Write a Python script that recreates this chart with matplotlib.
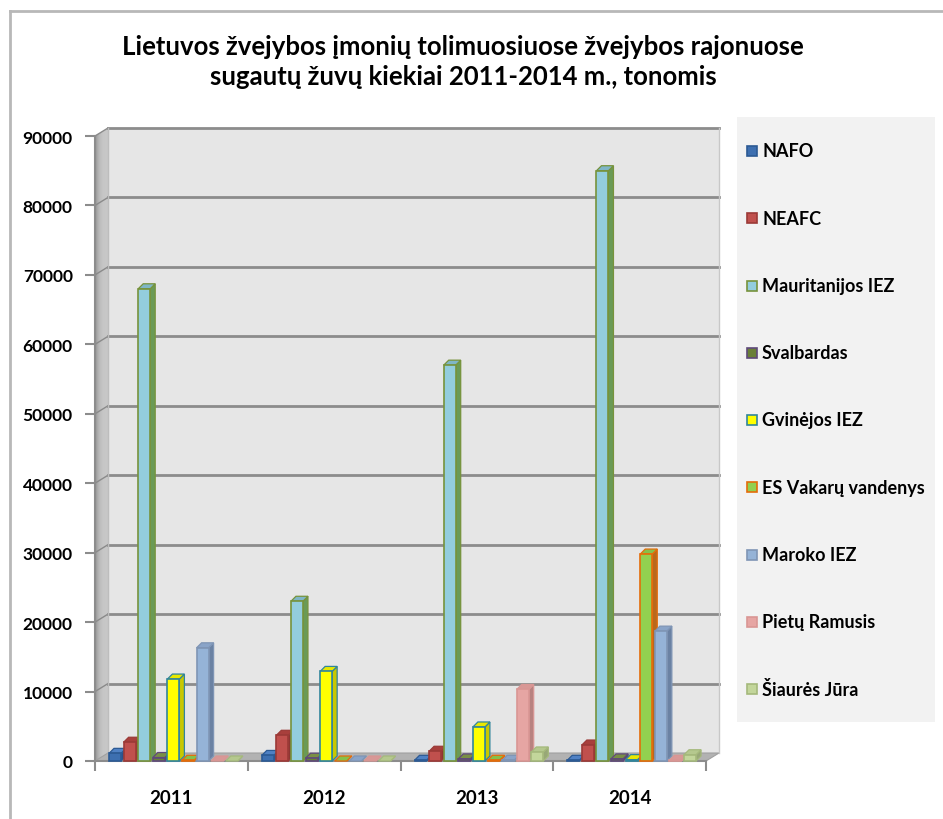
import matplotlib
matplotlib.use("Agg")
import matplotlib.pyplot as plt
from matplotlib.patches import Polygon, Rectangle
from matplotlib.lines import Line2D
import numpy as np

plt.rcParams['font.family'] = ['Lato', 'DejaVu Sans']

years = ['2011', '2012', '2013', '2014']
series = ['NAFO', 'NEAFC', 'Mauritanijos IEZ', 'Svalbardas', 'Gvinėjos IEZ',
          'ES Vakarų vandenys', 'Maroko IEZ', 'Pietų Ramusis', 'Šiaurės Jūra']
nafo = [1100, 800, 100, 100]
neafc = [2700, 3700, 1400, 2300]
mauritanijos = [68000, 23000, 57000, 85000]
svalbardas = [500, 400, 300, 300]
gvinejos = [11800, 12900, 4900, 200]
es_vakaru = [100, 0, 100, 29800]
maroko = [16300, 0, 100, 18700]
pietu_ramusis = [0, 0, 10300, 100]
siaures_jura = [0, 0, 1300, 900]
values = [nafo, neafc, mauritanijos, svalbardas, gvinejos, es_vakaru,
          maroko, pietu_ramusis, siaures_jura]
yticks = [0, 10000, 20000, 30000, 40000, 50000, 60000, 70000, 80000, 90000]
title = "Lietuvos žvejybos įmonių tolimuosiuose žvejybos rajonuose\nsugautų žuvų kiekiai 2011-2014 m., tonomis"

# face, side, top, edge colours
styles = [
    ('#3d6fb0', '#2a5189', '#4f81c4', '#2c5a94'),
    ('#c0504d', '#8e3533', '#a83f3c', '#9b3a37'),
    ('#93cddd', '#6a9a56', '#7fb6c6', '#77933c'),
    ('#6a7f38', '#4f5f2a', '#7a8f45', '#5f497a'),
    ('#ffff00', '#c8c800', '#e8e800', '#31859c'),
    ('#92d050', '#b8691c', '#86c04a', '#e46c0a'),
    ('#95b3d7', '#6b82a3', '#8aa4c8', '#7f95b5'),
    ('#e6a5a3', '#b88280', '#d89896', '#d99694'),
    ('#c3d69b', '#98a877', '#b5c88e', '#a5b97c'),
]

W, H = 943, 820
fig = plt.figure(figsize=(W / 100, H / 100), dpi=100)
fig.patch.set_facecolor('white')

x0p, x1p = 95, 706
y0p, y1p = 762, 137
ax = fig.add_axes([x0p / W, 1 - y0p / H, (x1p - x0p) / W, (y0p - y1p) / H])
ax.set_xlim(0, 4)
ax.set_ylim(0, 90000)
ax.patch.set_alpha(0)
for s in ax.spines.values():
    s.set_visible(False)

pxx = 4 / (x1p - x0p)          # data units per pixel (x)
pxy = 90000 / (y0p - y1p)      # data units per pixel (y)

wdx, wdy = 13 * pxx, 8 * pxy   # wall depth
# back wall
ax.add_patch(Polygon([(wdx, wdy), (4 + wdx, wdy), (4 + wdx, 90000 + wdy), (wdx, 90000 + wdy)],
                     closed=True, facecolor='#e6e6e6', edgecolor='none', clip_on=False, zorder=0))
# side wall gradient
nstrip = 12
for k in range(nstrip):
    a0, a1 = k / nstrip, (k + 1) / nstrip
    c = 0.58 + 0.22 * a0
    ax.add_patch(Polygon([(a0 * wdx, a0 * wdy), (a1 * wdx, a1 * wdy),
                          (a1 * wdx, 90000 + a1 * wdy), (a0 * wdx, 90000 + a0 * wdy)],
                         closed=True, facecolor=(c, c, c), edgecolor='none', clip_on=False, zorder=0.5))
# floor
ax.add_patch(Polygon([(0, 0), (4, 0), (4 + wdx, wdy), (wdx, wdy)], closed=True,
                     facecolor='#b2b2b2', edgecolor='#a0a0a0', lw=0.8, clip_on=False, zorder=0.6))
# grid lines
for v in yticks[1:]:
    ax.add_line(Line2D([wdx, 4 + wdx], [v + wdy, v + wdy], color='#8c8c8c', lw=2, zorder=0.7, clip_on=False))
    ax.add_line(Line2D([0, wdx], [v, v + wdy], color='#8a8a8a', lw=1, zorder=0.7, clip_on=False))
ax.add_line(Line2D([4 + wdx, 4 + wdx], [wdy, 90000 + wdy], color='#c8c8c8', lw=1, zorder=0.7, clip_on=False))
ax.add_line(Line2D([wdx, wdx], [wdy, 90000 + wdy], color='#bdbdbd', lw=1, zorder=0.7, clip_on=False))
# axis lines
ax.add_line(Line2D([0, 0], [0, 90000], color='#8c8c8c', lw=1.5, zorder=0.8, clip_on=False))
ax.add_line(Line2D([0, 4], [0, 0], color='#8c8c8c', lw=1.5, zorder=0.8, clip_on=False))

# bars
bw = 12 * pxx
sdx, sdy = 5 * pxx, 5 * pxy
for i in range(len(years)):
    for j, vals in enumerate(values):
        v = vals[i]
        face, side, top, edge = styles[j]
        xl = i + 14 * pxx + 14.6 * pxx * j
        xr = xl + bw
        z = 2 + j * 0.01
        ax.add_patch(Polygon([(xr, 0), (xr + sdx, sdy), (xr + sdx, v + sdy), (xr, v)], closed=True,
                             facecolor=side, edgecolor=edge, lw=0.9, clip_on=False, zorder=z))
        ax.add_patch(Polygon([(xl, v), (xr, v), (xr + sdx, v + sdy), (xl + sdx, v + sdy)], closed=True,
                             facecolor=top, edgecolor=edge, lw=0.9, clip_on=False, zorder=z))
        if v > 0:
            ax.add_patch(Rectangle((xl, 0), bw, v, facecolor=face, edgecolor=edge, lw=1.2,
                                   clip_on=False, zorder=z + 0.001))

# ticks
ax.set_yticks(yticks)
ax.set_yticklabels([str(t) for t in yticks], fontsize=12.5, fontweight='bold')
ax.tick_params(axis='y', length=7, width=1.5, color='#8c8c8c', pad=9)
ax.set_xticks([0, 1, 2, 3, 4])
ax.set_xticklabels([])
ax.tick_params(axis='x', which='major', length=7, width=1.5, color='#8c8c8c')
ax.set_xticks([0.5, 1.5, 2.5, 3.5], minor=True)
ax.set_xticklabels(years, minor=True, fontsize=13.5, fontweight='bold')
ax.tick_params(axis='x', which='minor', length=0, pad=20)

# title
fig.text(463 / W, 1 - 62 / H, title, ha='center', va='center', fontsize=18.5,
         fontweight='bold', linespacing=1.3)

# legend
fig.patches.append(Rectangle((737 / W, 1 - 723 / H), (935 - 737) / W, (723 - 118) / H,
                             transform=fig.transFigure, facecolor='#f2f2f2', edgecolor='none', zorder=0))
for j, name in enumerate(series):
    yc = 152 + 67.25 * j
    face, side, top, edge = styles[j]
    fig.patches.append(Rectangle((747 / W, 1 - (yc + 5) / H), 10 / W, 10 / H, transform=fig.transFigure,
                                 facecolor=face, edgecolor=edge, lw=1.2, zorder=1))
    fig.text(762 / W, 1 - yc / H, name, ha='left', va='center', fontsize=13, fontweight='bold')

# outer border (top & left)
fig.add_artist(Line2D([10 / W, 1], [1 - 12 / H, 1 - 12 / H], transform=fig.transFigure, color='#b8b8b8', lw=2))
fig.add_artist(Line2D([10 / W, 10 / W], [1 - 12 / H, 0], transform=fig.transFigure, color='#b8b8b8', lw=2))

fig.savefig('out.png', dpi=100, facecolor='white')
